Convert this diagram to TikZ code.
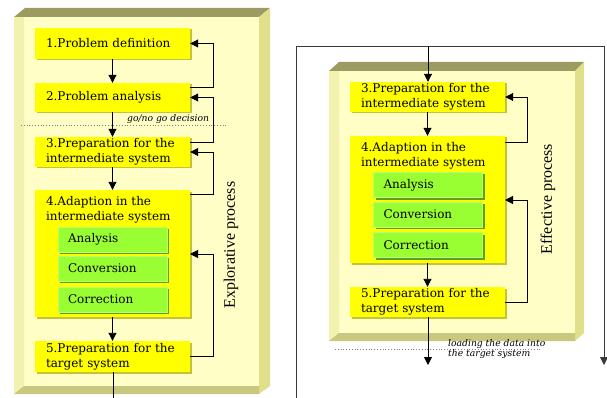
\documentclass[tikz,border=0pt]{standalone}
\usepackage{fontspec}
\setmainfont{DejaVu Serif}
\newfontfamily\procfont{Liberation Serif}
\usetikzlibrary{arrows.meta,shadows}
\hyphenpenalty=10000
\exhyphenpenalty=10000

\definecolor{faceC}{HTML}{FEFEC6}
\definecolor{leftC}{HTML}{F2F2B0}
\definecolor{topC}{HTML}{9C9C62}
\definecolor{rightC}{HTML}{E0E08A}
\definecolor{botC}{HTML}{C8C880}
\definecolor{stepY}{HTML}{FFFF00}
\definecolor{stepYs}{HTML}{C4C43A}
\definecolor{subG}{HTML}{99FF33}
\definecolor{subGs}{HTML}{5E9E22}
\definecolor{frameC}{HTML}{3A3A3A}

\tikzset{
  boxfont/.style={font=\fontsize{12}{14.6}\selectfont},
  stepbox/.style={boxfont, fill=stepY, text width=133pt, inner xsep=11pt, inner ysep=0pt,
    align=left,
    drop shadow={shadow xshift=1.5pt, shadow yshift=-1.5pt, fill=stepYs, opacity=1}},
  steptitle/.style={boxfont, anchor=north west, inner sep=0pt, align=left},
  subbox/.style={boxfont, fill=subG, draw=subG!70!white, line width=0.6pt, text width=89pt,
    inner xsep=10pt, inner ysep=0pt, align=left,
    drop shadow={shadow xshift=2pt, shadow yshift=-2pt, fill=subGs, opacity=1}},
  arr/.style={line width=0.9pt, -{Triangle[width=8pt,length=8pt]}},
  link/.style={line width=0.9pt},
  sepline/.style={gray, line width=0.8pt, dotted},
  notelabel/.style={font=\fontsize{9.2}{10.5}\selectfont\itshape, inner sep=0pt, align=left},
  proclabel/.style={font=\procfont\fontsize{16}{18}\selectfont, rotate=90, inner sep=0pt},
}

\begin{document}
\begin{tikzpicture}[x=1pt, y=-1pt]
\useasboundingbox (0,0) rectangle (607,398);

% ---------- explorative process: bevelled panel ----------
\fill[faceC]  (24,17) rectangle (259,386);
\fill[leftC]  (14,17) -- (24,17) -- (24,386) -- (14,394) -- cycle;
\fill[topC]   (14,17) -- (25,8) -- (270,8) -- (259,17) -- cycle;
\fill[rightC] (259,17) -- (270,8) -- (270,386) -- (259,394) -- cycle;
\fill[botC]   (14,394) -- (24,386) -- (259,386) -- (259,394) -- cycle;

\node[stepbox, minimum height=31pt] (b1) at (112.5,43.5) {1.Problem definition};
\node[stepbox, minimum height=29pt] (b2) at (112.5,97.5) {2.Problem analysis};
\node[stepbox, minimum height=30pt] (b3) at (112.5,152) {3.Preparation for the\\intermediate system};
\node[stepbox, minimum height=127pt] (b4) at (112.5,253.5) {};
\node[steptitle] (b4t) at ([xshift=11pt, yshift=-6.5pt]b4.north west) {4.Adaption in the\\intermediate system};
\node[subbox, minimum height=25pt] (g1) at (112.5,239.5) {Analysis};
\node[subbox, minimum height=25pt] (g2) at (112.5,268.5) {Conversion};
\node[subbox, minimum height=25pt] (g3) at (112.5,299.5) {Correction};
\node[stepbox, minimum height=31pt] (b5) at (112.5,356.5) {5.Preparation for the\\target system};

\coordinate (lx) at (213,0);
\coordinate (lout) at (113,398);
\coordinate (d1a) at (21,125);
\coordinate (d1b) at (228,125);

\draw[arr] (b1) -- (b2);
\draw[arr] (b2) -- (b3);
\draw[arr] (b3) -- (b4);
\draw[arr] (b4) -- (b5);
\draw[link] (b5.south -| lout) -- (lout);

\draw[arr] ([yshift=-5pt]b2.north east) -| (lx |- b1.east) -- (b1.east);
\draw[arr] ([yshift=-6pt]b3.north east) -| (lx |- b2.east) -- (b2.east);
\draw[arr] ([yshift=-5pt]b4.north east) -| (lx |- b3.east) -- (b3.east);
\coordinate (b4in) at (190,254);
\draw[arr] (b5.east) -| (lx |- b4in) -- (b4in);

\draw[sepline] (d1a) -- (d1b);
\node[notelabel, anchor=west] (gng) at (127,119) {go/no go decision};

\node[proclabel] (expl) at (231,245) {Explorative process};

% ---------- effective process: framed run ----------
\coordinate (fbl) at (296,398);
\coordinate (ftl) at (296,46);
\coordinate (ftr) at (604,46);
\coordinate (fend) at (604,365);
\draw[frameC, line width=0.9pt] (fbl) -- (ftl) -- (ftr);
\draw[arr, frameC] (ftr) -- (fend);

\fill[faceC]  (339,71) rectangle (575,333);
\fill[leftC]  (329,71) -- (339,71) -- (339,333) -- (329,341) -- cycle;
\fill[topC]   (329,71) -- (339,62) -- (584,62) -- (575,71) -- cycle;
\fill[rightC] (575,71) -- (584,62) -- (584,333) -- (575,341) -- cycle;
\fill[botC]   (329,341) -- (339,333) -- (575,333) -- (575,341) -- cycle;

\node[stepbox, minimum height=30pt] (r3) at (427.5,97) {3.Preparation for the\\intermediate system};
\node[stepbox, minimum height=127pt] (r4) at (427.5,199.5) {};
\node[steptitle] (r4t) at ([xshift=11pt, yshift=-6.5pt]r4.north west) {4.Adaption in the\\intermediate system};
\node[subbox, minimum height=25pt] (h1) at (428,185) {Analysis};
\node[subbox, minimum height=25pt] (h2) at (428,214.5) {Conversion};
\node[subbox, minimum height=25pt] (h3) at (428,245) {Correction};
\node[stepbox, minimum height=30pt] (r5) at (427.5,302) {5.Preparation for the\\target system};

\coordinate (topin) at (428,46);
\coordinate (rx) at (527,0);
\coordinate (rout) at (428,365);
\coordinate (d2a) at (335,349);
\coordinate (d2b) at (542,349);

\draw[arr] (topin) -- (r3.north -| topin);
\draw[arr] (r3) -- (r4);
\draw[arr] (r4) -- (r5);
\draw[arr] (r5.south -| rout) -- (rout);

\draw[arr] ([yshift=-7pt]r4.north east) -| (rx |- r3.east) -- (r3.east);
\coordinate (r4in) at (505,200);
\draw[arr] (r5.east) -| (rx |- r4in) -- (r4in);

\draw[sepline] (d2a) -- (d2b);
\node[notelabel, anchor=north west] (load) at (448,339) {loading the data into\\the target system};

\node[proclabel] (effe) at (548,199) {Effective process};
\end{tikzpicture}
\end{document}
